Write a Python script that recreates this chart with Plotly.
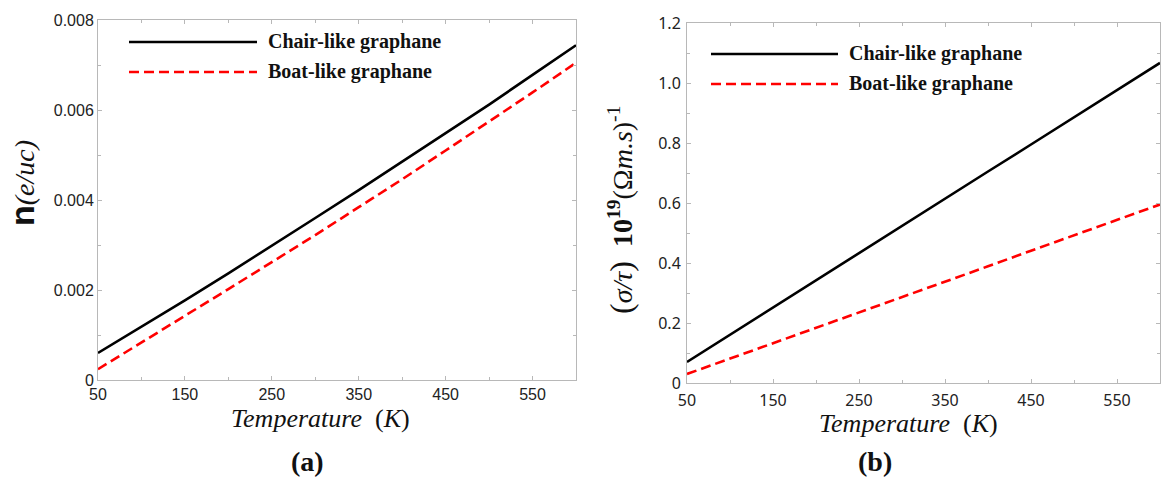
import plotly.graph_objects as go

temperature = [50, 100, 150, 200, 250, 300, 350, 400, 450, 500, 550, 600]
n_chair = [0.00060, 0.00118, 0.00177, 0.00237, 0.00298, 0.00360, 0.00422, 0.00485, 0.00548, 0.00612, 0.00678, 0.00744]
n_boat = [0.00024, 0.00083, 0.00143, 0.00202, 0.00262, 0.00322, 0.00384, 0.00446, 0.00510, 0.00574, 0.00639, 0.00705]
s_chair = [0.070, 0.161, 0.251, 0.342, 0.433, 0.523, 0.614, 0.705, 0.795, 0.886, 0.976, 1.067]
s_boat = [0.030, 0.081, 0.133, 0.184, 0.235, 0.287, 0.338, 0.389, 0.441, 0.492, 0.544, 0.595]
series_names = ["Chair-like graphane", "Boat-like graphane"]
x_ticks = [50, 150, 250, 350, 450, 550]
ya_ticks = [0, 0.002, 0.004, 0.006, 0.008]
ya_labels = ["0", "0.002", "0.004", "0.006", "0.008"]
yb_ticks = [0, 0.2, 0.4, 0.6, 0.8, 1.0, 1.2]
yb_labels = ["0", "0.2", "0.4", "0.6", "0.8", "1.0", "1.2"]

W, H = 1161, 477
def px(x):
    return x / W
def py(y):
    return 1 - y / H

BLACK = "#000000"
RED = "#ff0000"
AX = "#b8b8b8"

fig = go.Figure()
fig.add_trace(go.Scatter(x=temperature, y=n_chair, mode="lines", line=dict(color=BLACK, width=2.6),
                         xaxis="x", yaxis="y", name=series_names[0], showlegend=False))
fig.add_trace(go.Scatter(x=temperature, y=n_boat, mode="lines", line=dict(color=RED, width=2.6, dash="10px,5px"),
                         xaxis="x", yaxis="y", name=series_names[1], showlegend=False))
fig.add_trace(go.Scatter(x=temperature, y=s_chair, mode="lines", line=dict(color=BLACK, width=2.6),
                         xaxis="x2", yaxis="y2", name=series_names[0], showlegend=False))
fig.add_trace(go.Scatter(x=temperature, y=s_boat, mode="lines", line=dict(color=RED, width=2.6, dash="10px,5px"),
                         xaxis="x2", yaxis="y2", name=series_names[1], showlegend=False))

tick_font_a = dict(family="Liberation Sans, Arial", size=16, color="#222")
tick_font_b = dict(family="Noto Sans, Open Sans", size=16, color="#222")

common_axis = dict(showgrid=False, zeroline=False, showline=True, linecolor=AX, linewidth=1,
                   mirror="allticks", ticks="inside", ticklen=4, tickcolor=AX, automargin=False)

fig.update_layout(
    template="none",
    width=W, height=H,
    autosize=False,
    margin=dict(l=0, r=0, t=0, b=0, pad=0),
    paper_bgcolor="white", plot_bgcolor="white",
    showlegend=False,
    xaxis=dict(domain=[px(98), px(576)], range=[50, 600], tickvals=x_ticks, ticktext=[str(v) for v in x_ticks],
               tickfont=tick_font_a, anchor="y",
               minor=dict(tickvals=[100, 200, 300, 400, 500], ticks="inside", ticklen=3, tickcolor=AX),
               **common_axis),
    yaxis=dict(domain=[py(380), py(20)], range=[0, 0.008], tickvals=ya_ticks, ticktext=ya_labels,
               tickfont=tick_font_a, anchor="x",
               minor=dict(tickvals=[0.001, 0.003, 0.005, 0.007], ticks="inside", ticklen=3, tickcolor=AX),
               **common_axis),
    xaxis2=dict(domain=[px(687), px(1160)], range=[50, 600], tickvals=x_ticks, ticktext=[str(v) for v in x_ticks],
                tickfont=tick_font_b, anchor="y2", ticklabelstandoff=3,
                minor=dict(tickvals=[100, 200, 300, 400, 500], ticks="inside", ticklen=3, tickcolor=AX),
                **common_axis),
    yaxis2=dict(domain=[py(383), py(23)], range=[0, 1.2], tickvals=yb_ticks, ticktext=yb_labels,
                tickfont=tick_font_b, anchor="x2", ticklabelstandoff=2,
                minor=dict(tickvals=[0.1, 0.3, 0.5, 0.7, 0.9, 1.1], ticks="inside", ticklen=3, tickcolor=AX),
                **common_axis),
)

# Legend samples (drawn manually to match long sample lines)
legend_rows = [
    (129, 257, 42, 266, 0),
    (129, 257, 72, 266, 1),
    (711, 838, 54, 847, 0),
    (711, 838, 84, 847, 1),
]
for x0, x1, y, tx, idx in legend_rows:
    fig.add_shape(type="line", xref="paper", yref="paper", x0=px(x0), x1=px(x1), y0=py(y), y1=py(y),
                  line=dict(color=BLACK if idx == 0 else RED, width=2.6, dash="solid" if idx == 0 else "10px,5px"))
    fig.add_annotation(xref="paper", yref="paper", x=px(tx), y=py(y), xanchor="left", yanchor="middle",
                       text="<b>%s</b>" % series_names[idx], showarrow=False,
                       font=dict(family="Liberation Serif, Times New Roman", size=20, color="#111"))

serif = "Liberation Serif, Times New Roman"
# X axis titles
fig.add_annotation(xref="paper", yref="paper", x=px(321), y=py(418), xanchor="center", yanchor="middle",
                   text="<i>Temperature</i>  (<i>K</i>)", showarrow=False,
                   font=dict(family=serif, size=26, color="#111"))
fig.add_annotation(xref="paper", yref="paper", x=px(908), y=py(423), xanchor="center", yanchor="middle",
                   text="<i>Temperature</i>  (<i>K</i>)", showarrow=False,
                   font=dict(family=serif, size=26, color="#111"))
# Panel labels
fig.add_annotation(xref="paper", yref="paper", x=px(307), y=py(461), xanchor="center", yanchor="middle",
                   text="<b>(a)</b>", showarrow=False, font=dict(family=serif, size=28, color="#111"))
fig.add_annotation(xref="paper", yref="paper", x=px(875), y=py(461), xanchor="center", yanchor="middle",
                   text="<b>(b)</b>", showarrow=False, font=dict(family=serif, size=28, color="#111"))
# Y axis titles
fig.add_annotation(xref="paper", yref="paper", x=px(22), y=py(183), xanchor="center", yanchor="middle",
                   textangle=-90, showarrow=False,
                   text="<span style='font-family:Liberation Sans, Arial;font-weight:bold;font-size:34px'>n</span>"
                        "<i>(e/uc)</i>",
                   font=dict(family=serif, size=28, color="#111"))
fig.add_annotation(xref="paper", yref="paper", x=px(621), y=py(210), xanchor="center", yanchor="middle",
                   textangle=-90, showarrow=False,
                   text="<span style='font-size:32px'>(</span><i>σ/τ</i><span style='font-size:32px'>)</span>"
                        "  <b>10<sup>19</sup></b>(Ω<i>m.s</i>)<sup>-1</sup>",
                   font=dict(family=serif, size=28, color="#111"))

fig.write_html("out.html",
               config={"displayModeBar": False},
               post_script="document.body.style.margin='0';document.body.style.padding='0';"
                           "document.body.style.overflow='hidden';")
